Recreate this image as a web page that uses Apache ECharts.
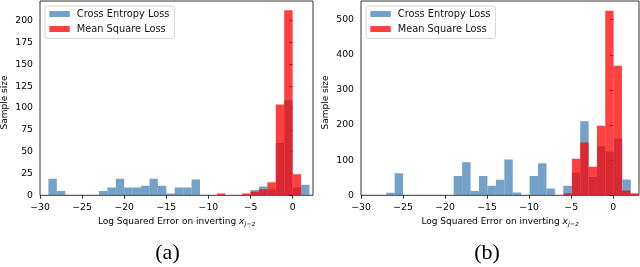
<!DOCTYPE html>
<html>
<head>
<meta charset="utf-8">
<script src="https://cdn.jsdelivr.net/npm/echarts@6/dist/echarts.min.js"></script>
<style>
html,body{margin:0;padding:0;background:#fff;}
#chart{width:640px;height:267px;}
</style>
</head>
<body>
<div id="chart"></div>
<script>
// ---- data ----
const seriesNames = ['Cross Entropy Loss', 'Mean Square Loss'];
const xTicks = [-30, -25, -20, -15, -10, -5, 0];
const yTicksA = [0, 25, 50, 75, 100, 125, 150, 175, 200];
const yTicksB = [0, 100, 200, 300, 400, 500];
const panelLabels = ['(a)', '(b)'];

// panel (a): histogram bins (left edge of first bin, bin width) and counts
const blueStartA = -29, blueWidthA = 1.0;
const blueCountsA = [19, 5, 0, 0, 0, 0, 5, 9, 19, 9, 9, 11, 19, 11, 2, 9, 9, 18, 0, 0, 0, 0, 0, 0, 6, 10, 7, 60, 109, 9, 12];
const redStartA = -9, redWidthA = 1.0;
const redCountsA = [2, 0, 0, 2, 4, 7, 15, 104, 212, 24];

// panel (b)
const blueStartB = -27, blueWidthB = 1.003;
const blueCountsB = [7, 63, 0, 0, 0, 0, 0, 0, 55, 94, 12, 55, 27, 44, 102, 8, 0, 55, 91, 19, 0, 27, 64, 211, 52, 140, 125, 162, 45];
const redStartB = -5.9, redWidthB = 0.99;
const redCountsB = [6, 104, 150, 81, 198, 525, 369, 14, 6];

// axis ranges
const xRangeA = [-30, 2.42], yRangeA = [0, 222.6];
const xRangeB = [-30, 3.06], yRangeB = [0, 553];

// ---- chart ----
const BLUE = 'rgba(70,130,180,0.75)';
const RED = 'rgba(255,0,0,0.75)';
const FONT = 'DejaVu Sans';

function hist(name, idx, start, width, counts, color) {
  const data = counts.map((c, i) => [start + i * width, start + (i + 1) * width, c]);
  return {
    type: 'custom', name: name, xAxisIndex: idx, yAxisIndex: idx,
    data: data, encode: { x: [0, 1], y: 2 },
    itemStyle: { color: color },
    clip: true,
    renderItem: function (params, api) {
      const x0 = api.value(0), x1 = api.value(1), v = api.value(2);
      if (!v) return null;
      const p0 = api.coord([x0, v]);
      const p1 = api.coord([x1, 0]);
      return {
        type: 'rect',
        shape: { x: p0[0], y: p0[1], width: p1[0] - p0[0], height: p1[1] - p0[1] },
        style: { fill: color }
      };
    }
  };
}

const minusFmt = v => (v < 0 ? '\u2212' + Math.abs(v) : String(v));

function xAxis(idx, range) {
  return {
    type: 'value', gridIndex: idx, min: range[0], max: range[1],
    splitLine: { show: false },
    axisLine: { show: false },
    axisTick: { show: true, inside: false, length: 3.5, customValues: xTicks, lineStyle: { color: '#000', width: 0.8 } },
    axisLabel: { customValues: xTicks, formatter: minusFmt, color: '#000', fontFamily: FONT, fontSize: 9.3, margin: 8 },
    name: '{t|Log Squared Error on inverting }{x|x}{s|j\u2212z}',
    nameLocation: 'middle', nameGap: 20,
    nameTextStyle: {
      color: '#000', fontFamily: FONT, fontSize: 9,
      rich: {
        t: { fontFamily: FONT, fontSize: 9, lineHeight: 12, color: '#000' },
        x: { fontFamily: FONT, fontSize: 9, fontStyle: 'italic', lineHeight: 12, color: '#000' },
        s: { fontFamily: FONT, fontSize: 6.5, fontStyle: 'italic', lineHeight: 7, verticalAlign: 'bottom', color: '#000' }
      }
    }
  };
}

function yAxis(idx, range, ticks) {
  return {
    type: 'value', gridIndex: idx, min: range[0], max: range[1],
    splitLine: { show: false },
    axisLine: { show: false },
    axisTick: { show: true, inside: false, length: 3.5, customValues: ticks, lineStyle: { color: '#000', width: 0.8 } },
    axisLabel: { customValues: ticks, color: '#000', fontFamily: FONT, fontSize: 9.3, margin: 7 }
  };
}

function legend(left) {
  return {
    data: seriesNames, orient: 'vertical', left: left, top: 6,
    icon: 'rect', itemWidth: 20.5, itemHeight: 6, itemGap: 4,
    padding: [2.5, 5, 4, 4.3],
    backgroundColor: 'rgba(255,255,255,0.8)',
    borderColor: '#cccccc', borderWidth: 0.8, borderRadius: 2,
    selectedMode: false,
    textStyle: { color: '#111', fontFamily: FONT, fontSize: 9.8, lineHeight: 11, padding: [0, 0, 0, 2] }
  };
}

const chart = echarts.init(document.getElementById('chart'), null, { renderer: 'canvas' });
chart.setOption({
  animation: false,
  backgroundColor: '#fff',
  grid: [
    { left: 40, top: 1, width: 273, height: 194.3, show: true, borderColor: '#000', borderWidth: 0.8, backgroundColor: 'transparent' },
    { left: 361, top: 1, width: 278, height: 194.3, show: true, borderColor: '#000', borderWidth: 0.8, backgroundColor: 'transparent' }
  ],
  xAxis: [xAxis(0, xRangeA), xAxis(1, xRangeB)],
  yAxis: [yAxis(0, yRangeA, yTicksA), yAxis(1, yRangeB, yTicksB)],
  legend: [legend(45), legend(366)],
  series: [
    hist(seriesNames[0], 0, blueStartA, blueWidthA, blueCountsA, BLUE),
    hist(seriesNames[1], 0, redStartA, redWidthA, redCountsA, RED),
    hist(seriesNames[0], 1, blueStartB, blueWidthB, blueCountsB, BLUE),
    hist(seriesNames[1], 1, redStartB, redWidthB, redCountsB, RED)
  ],
  graphic: [
    { type: 'text', x: 5, y: 102.5, rotation: Math.PI / 2,
      style: { text: 'Sample size', font: '9px "DejaVu Sans"', fill: '#000', align: 'center', verticalAlign: 'middle' } },
    { type: 'text', x: 326, y: 102.5, rotation: Math.PI / 2,
      style: { text: 'Sample size', font: '9px "DejaVu Sans"', fill: '#000', align: 'center', verticalAlign: 'middle' } },
    { type: 'text', x: 167.5, y: 253,
      style: { text: panelLabels[0], font: '22px "Liberation Serif"', fill: '#000', align: 'center', verticalAlign: 'middle' } },
    { type: 'text', x: 487, y: 253,
      style: { text: panelLabels[1], font: '22px "Liberation Serif"', fill: '#000', align: 'center', verticalAlign: 'middle' } }
  ]
});
</script>
</body>
</html>
